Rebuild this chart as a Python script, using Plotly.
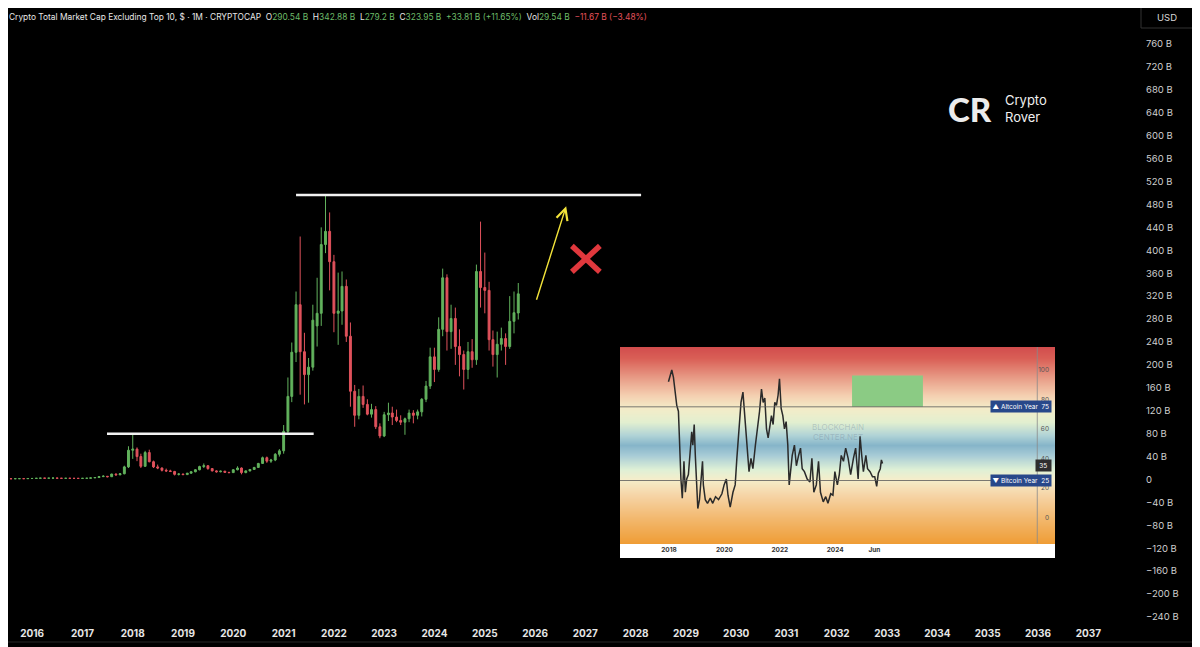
import pandas as pd
import plotly.graph_objects as go

# ---- monthly candles, Crypto Total Market Cap Excluding Top 10 (billions USD) ----
FIRST_MONTH = "2015-07-01"

opens = [
    1.6, 1.5, 1.3, 1.4, 1.5, 1.4,                                   # 2015 (Jul-Dec)
    1.7, 1.8, 2.1, 2.4, 2.2, 2.3, 2.5, 2.2, 2.0, 2.1, 2.0, 1.9,     # 2016
    1.9, 2.0, 2.2, 2.8, 3.4, 5.0, 5.6, 4.8, 9.5, 8.2, 10, 22,       # 2017
    51, 53, 40, 23, 47, 31, 22, 20, 16, 15, 14, 9,                  # 2018
    9.5, 8.5, 11, 13.5, 17, 22.5, 24, 19, 15, 13.5, 14.5, 12.5,     # 2019
    12, 17, 20, 12, 15, 17.5, 21, 28, 38, 32, 34, 44,               # 2020
    50, 84, 145, 222, 305, 223, 183, 196, 268, 290, 410, 433,       # 2021
    380, 290, 294, 337, 250, 154, 112, 145, 131, 114, 122, 92,      # 2022
    76, 113, 116, 109, 103, 100, 106, 116, 112, 118, 140, 163,      # 2023
    214, 192, 262, 352, 258, 281, 232, 218, 192, 223, 209, 363,     # 2024
    335, 330, 244, 218, 236, 246, 232, 276, 290.54,                 # 2025 (Jan-Sep)
]
highs = [
    1.9, 1.7, 1.5, 1.6, 1.8, 1.8,
    2.0, 2.2, 2.6, 2.6, 2.5, 3.0, 2.7, 2.4, 2.3, 2.3, 2.2, 2.1,
    2.1, 2.3, 3.0, 3.6, 6.0, 7.5, 6.0, 10, 10.5, 11, 24, 58,
    80, 56, 45, 50, 52, 33, 26, 21, 19, 17, 15, 11,
    10, 11.5, 14, 18, 24, 28, 25, 20, 16, 15.5, 15, 13,
    18, 23, 21, 16, 18, 22, 29, 40, 40, 36, 46, 53,
    95, 178, 239, 328, 424, 256, 212, 305, 352, 440, 497, 466,
    392, 361, 363, 349, 274, 165, 158, 164, 140, 132, 128, 98,
    118, 134, 127, 122, 112, 108, 122, 121, 122, 142, 172, 230,
    230, 283, 368, 358, 305, 300, 262, 225, 240, 245, 375, 450,
    396, 345, 260, 258, 265, 255, 320, 328, 342.88,
]
lows = [
    1.3, 1.2, 1.2, 1.3, 1.3, 1.4,
    1.5, 1.7, 1.9, 2.0, 2.0, 2.1, 2.0, 1.9, 1.9, 1.9, 1.8, 1.8,
    1.8, 1.9, 2.1, 2.6, 3.2, 4.2, 3.8, 4.6, 6.5, 7.5, 9, 20,
    36, 32, 20, 22, 30, 20, 18, 14, 13, 13, 7, 7,
    8, 8.2, 10, 12.5, 16, 20, 17, 14, 12, 12.5, 12, 11,
    11.5, 16, 9, 11, 14, 17, 20, 27, 29, 29, 32, 40,
    45, 80, 135, 205, 148, 131, 134, 190, 232, 268, 395, 330,
    257, 235, 270, 240, 127, 92, 105, 125, 112, 108, 88, 72,
    74, 102, 95, 100, 95, 78, 100, 98, 105, 110, 135, 158,
    170, 188, 250, 225, 228, 200, 180, 157, 175, 195, 200, 300,
    290, 225, 197, 178, 225, 200, 228, 255, 279.2,
]
closes = [
    1.5, 1.3, 1.4, 1.5, 1.4, 1.7,
    1.8, 2.1, 2.4, 2.2, 2.3, 2.5, 2.2, 2.0, 2.1, 2.0, 1.9, 1.9,
    2.0, 2.2, 2.8, 3.4, 5.0, 5.6, 4.8, 9.5, 8.2, 10, 22, 51,
    53, 40, 23, 47, 31, 22, 20, 16, 15, 14, 9, 9.5,
    8.5, 11, 13.5, 17, 22.5, 24, 19, 15, 13.5, 14.5, 12.5, 12,
    17, 20, 12, 15, 17.5, 21, 28, 38, 32, 34, 44, 50,
    84, 145, 222, 305, 223, 183, 196, 278, 290, 410, 433, 380,
    290, 294, 337, 250, 154, 112, 145, 131, 114, 122, 92, 76,
    113, 116, 109, 103, 100, 106, 116, 112, 118, 140, 163, 214,
    192, 262, 352, 258, 281, 232, 218, 192, 223, 209, 363, 335,
    330, 244, 218, 236, 246, 232, 276, 291, 323.95,
]

year_ticks = list(range(2016, 2038))
price_ticks = list(range(-240, 761, 40))

# horizontal levels drawn on the chart: (value, start, end)
levels = [
    (80, "2017-06-28", "2021-08-07"),
    (496.5, "2021-04-01", "2028-02-10"),
]
arrow_tail = ("2026-01-08", 311)
arrow_head = ("2026-08-15", 477)
cross_at = ("2027-01-05", 385)

# ---- inset: Altcoin Season Index (blockchaincenter) ----
inset_years = [
    2017.98, 2018.04, 2018.10, 2018.16, 2018.22, 2018.28, 2018.34, 2018.37, 2018.43, 2018.48,
    2018.54, 2018.59, 2018.64, 2018.70, 2018.76, 2018.82, 2018.86, 2018.91, 2018.95, 2019.00,
    2019.04, 2019.10, 2019.16, 2019.21, 2019.24, 2019.31, 2019.39, 2019.49, 2019.58, 2019.68,
    2019.79, 2019.91, 2019.99, 2020.07, 2020.13, 2020.21, 2020.31, 2020.39, 2020.45, 2020.53,
    2020.60, 2020.67, 2020.72, 2020.79, 2020.84, 2020.89, 2020.96, 2021.03, 2021.12, 2021.20,
    2021.27, 2021.34, 2021.40, 2021.46, 2021.52, 2021.58, 2021.64, 2021.70, 2021.76, 2021.82,
    2021.88, 2021.94, 2021.99, 2022.05, 2022.11, 2022.17, 2022.23, 2022.29, 2022.34, 2022.39,
    2022.45, 2022.53, 2022.60, 2022.68, 2022.75, 2022.81, 2022.89, 2022.99, 2023.09, 2023.16,
    2023.23, 2023.32, 2023.40, 2023.47, 2023.57, 2023.66, 2023.74, 2023.84, 2023.92, 2023.99,
    2024.08, 2024.15, 2024.22, 2024.30, 2024.38, 2024.47, 2024.56, 2024.66, 2024.74, 2024.83,
    2024.90, 2024.96, 2025.02, 2025.11, 2025.17, 2025.26, 2025.35, 2025.43, 2025.50, 2025.56,
    2025.63, 2025.67, 2025.71,
]
inset_values = [
    92, 97, 100, 95, 83, 76, 72, 54, 26, 13,
    38, 17, 26, 29, 42, 58, 49, 63, 42, 22,
    6, 12, 24, 38, 22, 12, 9.5, 13, 9.5, 14,
    12, 16, 22, 26, 15, 7, 17, 22, 40, 58,
    78, 85, 72, 56, 42, 31, 40, 33, 49, 60,
    72, 87, 78, 81, 60, 54, 63, 69, 63, 78,
    76, 83, 94, 74, 69, 60, 65, 49, 22, 33,
    42, 49, 35, 42, 47, 33, 31, 26, 24, 40,
    17, 22, 38, 17, 10.5, 14, 9.5, 16, 15, 31,
    22, 29, 42, 38, 47, 40, 29, 40, 47, 26,
    55, 42, 31, 42, 33, 31, 27.5, 27.5, 21, 30,
    33, 39, 36.5,
]
inset_xticks = [2018, 2020, 2022, 2024, 2025.42]
inset_xlabels = ["2018", "2020", "2022", "2024", "Jun"]
inset_yticks = [0, 20, 40, 60, 80, 100]
altcoin_level, bitcoin_level, current_index = 75, 25, 35
target_box = (2024.61, 2027.17, 75, 96.3)

# background gradient stops: (index value, colour); the white strip sits below the chart
gradient = [
    (-30, "#ffffff"), (-17.9, "#ffffff"), (-17.6, "#ef9d36"), (-1, "#f2b76c"),
    (15, "#f6d4a6"), (26, "#f5eecb"), (33, "#def0d6"), (42, "#a7cbd6"),
    (49, "#86b5c9"), (56, "#b0d3d6"), (65, "#e2efd0"), (74, "#f4ecc8"),
    (83, "#f4cfb0"), (94, "#e9a08a"), (108, "#d95f56"), (118, "#cf474a"),
]

# ---- page geometry (page pixels; the page body adds an 8px offset) ----
OFFSET = 8
FIG_W, FIG_H = 1200 - OFFSET, 647 - OFFSET
PLOT_L, PLOT_R, PLOT_T, PLOT_B = 8, 1138, 30, 622


def px(x):
    return (x - PLOT_L) / (PLOT_R - PLOT_L)


def py(y):
    return (PLOT_B - y) / (PLOT_B - PLOT_T)


GREEN, RED = "#62b25d", "#e0525c"
months = pd.date_range(FIRST_MONTH, periods=len(closes), freq="MS")

fig = go.Figure()
fig.add_trace(
    go.Candlestick(
        x=months, open=opens, high=highs, low=lows, close=closes,
        increasing={"line": {"color": GREEN, "width": 1}, "fillcolor": GREEN},
        decreasing={"line": {"color": RED, "width": 1}, "fillcolor": RED},
        hoverinfo="skip", showlegend=False,
    )
)

# inset gradient + index line
vmin, vmax = gradient[0][0], gradient[-1][0]
fig.add_trace(
    go.Heatmap(
        x=[2015.5, 2032.5], y=[g[0] for g in gradient],
        z=[[g[0], g[0]] for g in gradient],
        colorscale=[[(g[0] - vmin) / (vmax - vmin), g[1]] for g in gradient],
        zmin=vmin, zmax=vmax, zsmooth="best", showscale=False,
        hoverinfo="skip", xaxis="x2", yaxis="y2",
    )
)
fig.add_trace(
    go.Scatter(
        x=inset_years, y=inset_values, mode="lines",
        line={"color": "#2a2a2a", "width": 1.5},
        hoverinfo="skip", showlegend=False, xaxis="x2", yaxis="y2",
    )
)

shapes = []
for value, start, end in levels:
    shapes.append(dict(type="line", xref="x", yref="y", x0=start, x1=end, y0=value, y1=value,
                       line={"color": "#f2f2f2", "width": 2.5}))
for sx in (1, -1):
    shapes.append(dict(type="line", xref="x", yref="y", xsizemode="pixel", ysizemode="pixel",
                       xanchor=cross_at[0], yanchor=cross_at[1], x0=-14, x1=14, y0=-13 * sx, y1=13 * sx,
                       line={"color": "#e0383d", "width": 5.5}))
# inset decorations
x0b, x1b, y0b, y1b = target_box
shapes.append(dict(type="rect", xref="x2", yref="y2", x0=x0b, x1=x1b, y0=y0b, y1=y1b,
                   fillcolor="#8bcb84", line={"width": 0}))
for lvl in (altcoin_level, bitcoin_level):
    shapes.append(dict(type="line", xref="x2", yref="y2", x0=2016.23, x1=2031.3, y0=lvl, y1=lvl,
                       line={"color": "#5a5a5a", "width": 0.8}))
shapes.append(dict(type="line", xref="x2", yref="y2", x0=2031.3, x1=2031.3, y0=-17.6, y1=115.6,
                   line={"color": "#8a8a8a", "width": 0.8}))
# USD box and bottom rule
shapes.append(dict(type="rect", xref="paper", yref="paper", x0=px(1141), x1=px(1193), y0=py(28), y1=py(6),
                   line={"color": "#333333", "width": 1}, fillcolor="#000000"))
shapes.append(dict(type="line", xref="paper", yref="paper", x0=0, x1=px(1200), y0=py(642), y1=py(642),
                   line={"color": "#262626", "width": 1}))

G, R_ = "#6dbb68", "#e2505a"
sp = "\u00a0"
title = (
    f"Crypto Total Market Cap Excluding Top 10, $ · 1M · CRYPTOCAP{sp}{sp}"
    f"O<span style='color:{G}'>290.54{sp}B</span>{sp}{sp}"
    f"H<span style='color:{G}'>342.88{sp}B</span>{sp}{sp}"
    f"L<span style='color:{G}'>279.2{sp}B</span>{sp}{sp}"
    f"C<span style='color:{G}'>323.95{sp}B</span>{sp}{sp}"
    f"<span style='color:{G}'>+33.81{sp}B (+11.65%)</span>{sp}{sp}"
    f"Vol<span style='color:{G}'>29.54{sp}B</span>{sp}{sp}"
    f"<span style='color:{R_}'>−11.67{sp}B (−3.48%)</span>"
)


def label(x, y, text, size, xanchor="center", family="Inter", color="#e8e8e8", weight="normal", **extra):
    return dict(xref="paper", yref="paper", x=px(x), y=py(y), xanchor=xanchor, yanchor="middle",
                text=text, showarrow=False,
                font={"family": family, "size": size, "color": color, "weight": weight}, **extra)


annotations = [
    label(7, 17, title, 8.4, xanchor="left"),
    label(1167, 17, "USD", 9.5, color="#d8d8d8"),
    label(970, 109, "CR", 33, family="Lato", weight=900, color="#ececec"),
    label(1003, 108, "Crypto<br>Rover", 13, xanchor="left", align="left", color="#f0f0f0"),
    dict(xref="x", yref="y", axref="x", ayref="y", x=arrow_head[0], y=arrow_head[1],
         ax=arrow_tail[0], ay=arrow_tail[1], text="", showarrow=True, arrowhead=5,
         arrowsize=1.6, arrowwidth=1.4, arrowcolor="#f2e33a", standoff=0),
    # inset labels
    dict(xref="paper", yref="y2", x=px(1052), y=altcoin_level, xanchor="right", yanchor="middle",
         text=f"▲ Altcoin Year{sp}{sp}{altcoin_level}", showarrow=False, bgcolor="#28488a",
         borderpad=1.5, font={"family": "Inter", "size": 6.5, "color": "#ffffff"}),
    dict(xref="paper", yref="y2", x=px(1052), y=bitcoin_level, xanchor="right", yanchor="middle",
         text=f"▼ Bitcoin Year{sp}{sp}{bitcoin_level}", showarrow=False, bgcolor="#28488a",
         borderpad=1.5, font={"family": "Inter", "size": 6.5, "color": "#ffffff"}),
    dict(xref="paper", yref="y2", x=px(1052), y=current_index, xanchor="right", yanchor="middle",
         text=f"{sp}{current_index}{sp}", showarrow=False, bgcolor="#2e2e2e",
         borderpad=1.5, font={"family": "Inter", "size": 6.5, "color": "#ffffff"}),
    dict(xref="x2", yref="y2", x=2024.1, y=58, text="BLOCKCHAIN<br>CENTER.NET", showarrow=False,
         font={"family": "Inter", "size": 8, "color": "rgba(110,130,150,0.35)"}),
]

fig.update_layout(
    width=FIG_W, height=FIG_H,
    margin={"l": PLOT_L - OFFSET, "r": FIG_W - (PLOT_R - OFFSET), "t": PLOT_T - OFFSET,
            "b": FIG_H - (PLOT_B - OFFSET), "autoexpand": False},
    paper_bgcolor="#000000", plot_bgcolor="#000000",
    showlegend=False,
    xaxis=dict(
        type="date", range=["2015-07-10", "2037-12-28"], rangeslider={"visible": False},
        tickvals=[f"{y}-01-01" for y in year_ticks], ticktext=[str(y) for y in year_ticks],
        showgrid=False, zeroline=False, showline=False, ticks="", ticklabelstandoff=4,
        tickfont={"family": "Inter", "size": 10, "color": "#e6e6e6", "weight": "bold"},
    ),
    yaxis=dict(
        side="right", range=[-248.7, 784.4], tickvals=price_ticks,
        ticktext=[("0" if v == 0 else f"{v} B".replace("-", "−")) for v in price_ticks],
        showgrid=False, zeroline=False, showline=False, ticks="", ticklabelstandoff=7,
        tickfont={"family": "Inter", "size": 9.5, "color": "#cfcfcf"},
    ),
    xaxis2=dict(
        domain=[px(620), px(1055)], anchor="y2", range=[2016.23, 2031.94],
        tickvals=inset_xticks, ticktext=inset_xlabels, ticklabelposition="inside",
        showgrid=False, zeroline=False, showline=False, ticks="", ticklabelstandoff=2,
        tickfont={"family": "Inter", "size": 6.5, "color": "#333333", "weight": "bold"},
    ),
    yaxis2=dict(
        domain=[py(558), py(347)], anchor="x2", range=[-27.6, 115.6], side="right",
        tickvals=inset_yticks, ticklabelposition="inside", ticklabelstandoff=3,
        showgrid=False, zeroline=False, showline=False, ticks="",
        tickfont={"family": "Inter", "size": 6.5, "color": "#555555"},
    ),
    shapes=shapes,
    annotations=annotations,
)

fig.write_html("out.html")
